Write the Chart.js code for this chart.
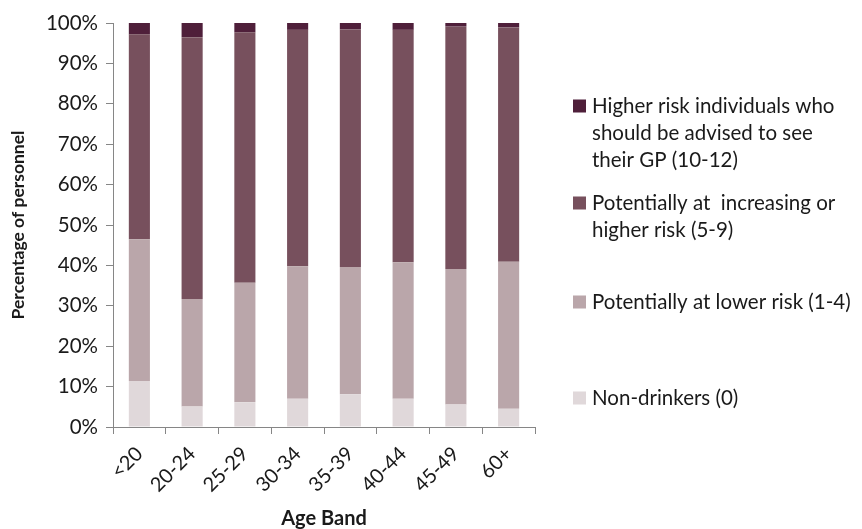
<!DOCTYPE html>
<html>
<head>
<meta charset="utf-8">
<script src="https://cdn.jsdelivr.net/npm/chart.js@4.4.0/dist/chart.umd.min.js"></script>
<style>
html,body{margin:0;padding:0;background:#fff;}
#wrap{width:862px;height:529px;position:relative;}
</style>
</head>
<body>
<div id="wrap"><canvas id="c" width="862" height="529"></canvas></div>
<script>
const categories = ['<20','20-24','25-29','30-34','35-39','40-44','45-49','60+'];
const nonDrinkers = [11.4, 5.1, 6.1, 7.0, 8.1, 7.0, 5.6, 4.5];
const lowerRisk = [35.1, 26.6, 29.6, 32.8, 31.5, 33.8, 33.5, 36.4];
const increasingRisk = [50.7, 64.8, 62.0, 58.5, 58.8, 57.5, 60.0, 58.0];
const higherRisk = [2.8, 3.5, 2.3, 1.7, 1.6, 1.7, 0.9, 1.1];
const seriesNames = [
  'Non-drinkers (0)',
  'Potentially at lower risk (1-4)',
  'Potentially at  increasing or higher risk (5-9)',
  'Higher risk individuals who should be advised to see their GP (10-12)'
];
const legendLines = [
  ['Non-drinkers (0)'],
  ['Potentially at lower risk (1-4)'],
  ['Potentially at  increasing or', 'higher risk (5-9)'],
  ['Higher risk individuals who', 'should be advised to see', 'their GP (10-12)']
];
const yTickValues = [0,10,20,30,40,50,60,70,80,90,100];

const colors = ['#e0d8da', '#baa6aa', '#77505d', '#4f1f3a'];
const FONT = 'Lato, "Open Sans", sans-serif';

const legendPlugin = {
  id: 'sideLegend',
  afterDraw(chart) {
    const ctx = chart.ctx;
    const ys = [398, 302, 203, 106]; // first-line centres, bottom-to-top dataset order
    ctx.save();
    ctx.font = '20.5px ' + FONT;
    ctx.textBaseline = 'middle';
    chart.data.datasets.forEach((ds, i) => {
      const y = ys[i];
      ctx.fillStyle = ds.backgroundColor;
      ctx.fillRect(573, y - 6.5, 13, 13);
      ctx.fillStyle = '#1a1a1a';
      legendLines[i].forEach((line, j) => {
        ctx.fillText(line, 592, y + j * 27);
      });
    });
    ctx.restore();
  }
};

new Chart(document.getElementById('c'), {
  type: 'bar',
  data: {
    labels: categories,
    datasets: [
      { label: seriesNames[0], data: nonDrinkers, backgroundColor: colors[0] },
      { label: seriesNames[1], data: lowerRisk, backgroundColor: colors[1] },
      { label: seriesNames[2], data: increasingRisk, backgroundColor: colors[2] },
      { label: seriesNames[3], data: higherRisk, backgroundColor: colors[3] }
    ]
  },
  options: {
    responsive: false,
    animation: false,
    devicePixelRatio: 1,
    layout: { padding: { left: 4, right: 327, top: 23, bottom: 0 } },
    datasets: { bar: { categoryPercentage: 1.0, barPercentage: 0.4, borderWidth: 0 } },
    plugins: { legend: { display: false }, tooltip: { enabled: false } },
    scales: {
      x: {
        stacked: true,
        grid: { display: true, drawOnChartArea: false, offset: true, color: '#868686', tickLength: 7, lineWidth: 1 },
        border: { display: true, color: '#868686', width: 1 },
        ticks: { color: '#1a1a1a', font: { family: FONT, size: 20 }, maxRotation: 45, minRotation: 45, padding: 8 },
        title: { display: true, text: 'Age Band', color: '#1a1a1a', font: { family: FONT, size: 20, weight: 'bold', lineHeight: 1.0 }, padding: { top: 0, bottom: 0 } },
        afterFit(s) { s.height = 529 - 427; s.paddingLeft = 0; s.paddingRight = 0; }
      },
      y: {
        stacked: true,
        min: 0, max: 100,
        afterBuildTicks(s) { s.ticks = yTickValues.map(v => ({ value: v })); },
        grid: { display: true, drawOnChartArea: false, color: '#868686', tickLength: 7 },
        border: { display: true, color: '#868686', width: 1 },
        ticks: { color: '#1a1a1a', font: { family: FONT, size: 20.5 }, padding: 8, callback: v => v + '%' },
        title: { display: true, text: 'Percentage of personnel', color: '#1a1a1a', font: { family: FONT, size: 17.5, weight: 'bold' }, padding: { top: 4, bottom: 4 } },
        afterFit(s) { s.width = 113 - 4; s.paddingTop = 0; s.paddingBottom = 0; }
      }
    }
  },
  plugins: [legendPlugin]
});
</script>
</body>
</html>
